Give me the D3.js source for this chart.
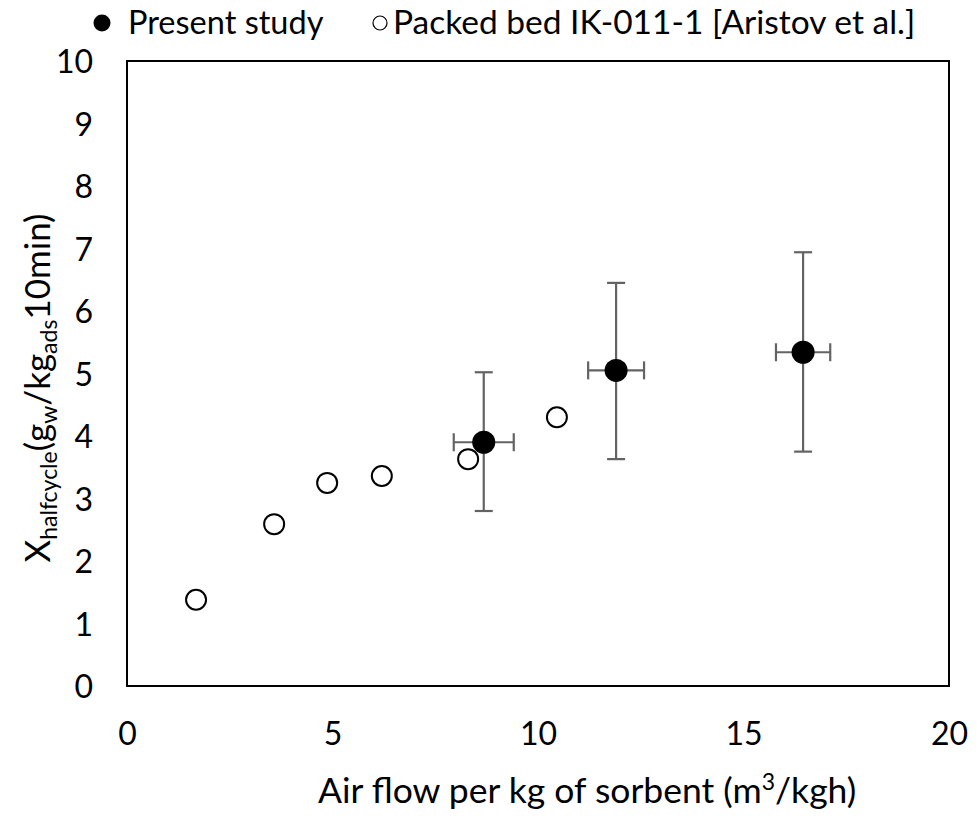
<!DOCTYPE html>
<html>
<head>
<meta charset="utf-8">
<script src="https://cdn.jsdelivr.net/npm/d3@7"></script>
<style>
  body { margin: 0; background: #fff; }
  svg text { font-family: Lato, "Open Sans", sans-serif; fill: #000; }
</style>
</head>
<body>
<svg id="chart" width="980" height="818"></svg>
<script>
// data
const presentX = [8.68, 11.9, 16.45];
const presentY = [3.9, 5.05, 5.34];
const presentXErr = [0.73, 0.68, 0.66];
const presentYLow = [2.8, 3.63, 3.75];
const presentYHigh = [5.02, 6.45, 6.94];

const packedX = [1.68, 3.58, 4.87, 6.2, 8.3, 10.46];
const packedY = [1.38, 2.59, 3.25, 3.36, 3.63, 4.3];

const xTicks = [0, 5, 10, 15, 20];
const yTicks = [0, 1, 2, 3, 4, 5, 6, 7, 8, 9, 10];

const margin = { top: 61, right: 31, bottom: 132, left: 127 };
const W = 980, H = 818;
const innerW = W - margin.left - margin.right;
const innerH = H - margin.top - margin.bottom;

const svg = d3.select("#chart");
const g = svg.append("g")
    .attr("transform", `translate(${margin.left},${margin.top})`);

const x = d3.scaleLinear().domain([0, 20]).range([0, innerW]);
const y = d3.scaleLinear().domain([0, 10]).range([innerH, 0]);

// frame
g.append("rect")
    .attr("width", innerW)
    .attr("height", innerH)
    .attr("fill", "none")
    .attr("stroke", "#000")
    .attr("stroke-width", 2);

// axes (labels only, frame drawn above)
const xAxis = g.append("g")
    .attr("transform", `translate(0,${innerH})`)
    .call(d3.axisBottom(x).tickValues(xTicks).tickSize(0).tickPadding(0));
const yAxis = g.append("g")
    .call(d3.axisLeft(y).tickValues(yTicks).tickSize(0).tickPadding(34));

[xAxis, yAxis].forEach(a => {
    a.select(".domain").remove();
    a.selectAll(".tick text")
        .style("font-size", "32px")
        .style("font-family", "Lato, 'Open Sans', sans-serif");
});
xAxis.selectAll(".tick text").attr("y", 59).attr("dy", 0);
yAxis.selectAll(".tick text").attr("dy", "0.36em");

// error bars
const presentData = presentX.map((v, i) => ({
    x: v, y: presentY[i], xe: presentXErr[i], lo: presentYLow[i], hi: presentYHigh[i]
}));

const errColor = "#636363";
const cap = 9;
const eb = g.append("g")
    .attr("stroke", errColor)
    .attr("stroke-width", 2.2);

presentData.forEach(d => {
    // vertical
    eb.append("line")
        .attr("x1", x(d.x)).attr("x2", x(d.x))
        .attr("y1", y(d.lo)).attr("y2", y(d.hi));
    eb.append("line")
        .attr("x1", x(d.x) - cap).attr("x2", x(d.x) + cap)
        .attr("y1", y(d.lo)).attr("y2", y(d.lo));
    eb.append("line")
        .attr("x1", x(d.x) - cap).attr("x2", x(d.x) + cap)
        .attr("y1", y(d.hi)).attr("y2", y(d.hi));
    // horizontal
    eb.append("line")
        .attr("x1", x(d.x - d.xe)).attr("x2", x(d.x + d.xe))
        .attr("y1", y(d.y)).attr("y2", y(d.y));
    eb.append("line")
        .attr("x1", x(d.x - d.xe)).attr("x2", x(d.x - d.xe))
        .attr("y1", y(d.y) - cap).attr("y2", y(d.y) + cap);
    eb.append("line")
        .attr("x1", x(d.x + d.xe)).attr("x2", x(d.x + d.xe))
        .attr("y1", y(d.y) - cap).attr("y2", y(d.y) + cap);
});

// packed bed (open circles)
g.selectAll(".packed")
    .data(packedX.map((v, i) => ({ x: v, y: packedY[i] })))
    .enter()
    .append("circle")
    .attr("class", "packed")
    .attr("cx", d => x(d.x))
    .attr("cy", d => y(d.y))
    .attr("r", 10)
    .attr("fill", "#fff")
    .attr("stroke", "#000")
    .attr("stroke-width", 2);

// present study (filled)
g.selectAll(".present")
    .data(presentData)
    .enter()
    .append("circle")
    .attr("class", "present")
    .attr("cx", d => x(d.x))
    .attr("cy", d => y(d.y))
    .attr("r", 11.5)
    .attr("fill", "#000");

// legend
const leg = svg.append("g");
leg.append("circle")
    .attr("cx", 102).attr("cy", 23).attr("r", 8.5)
    .attr("fill", "#000");
leg.append("text")
    .attr("x", 128).attr("y", 34)
    .style("font-size", "32.5px")
    .text("Present study");
leg.append("circle")
    .attr("cx", 380).attr("cy", 23).attr("r", 7)
    .attr("fill", "#fff")
    .attr("stroke", "#000")
    .attr("stroke-width", 1.2);
leg.append("text")
    .attr("x", 393).attr("y", 34)
    .style("font-size", "33.5px")
    .text("Packed bed IK-011-1 [Aristov et al.]");

// x title
const xt = svg.append("text")
    .attr("x", 318)
    .attr("y", 803)
    .style("font-size", "35.5px");
xt.append("tspan").text("Air flow per kg of sorbent (m");
xt.append("tspan").attr("dy", -13).style("font-size", "23px").text("3");
xt.append("tspan").attr("dy", 13).text("/kgh)");

// y title
const yt = svg.append("text")
    .attr("transform", `translate(50,388) rotate(-90)`)
    .attr("text-anchor", "middle")
    .style("font-size", "35px");
yt.append("tspan").text("X");
yt.append("tspan").attr("dy", 7).style("font-size", "23px").text("halfcycle");
yt.append("tspan").attr("dy", -7).text("(g");
yt.append("tspan").attr("dy", 7).style("font-size", "23px").text("w");
yt.append("tspan").attr("dy", -7).text("/kg");
yt.append("tspan").attr("dy", 7).style("font-size", "23px").text("ads");
yt.append("tspan").attr("dy", -7).text("10min)");
</script>
</body>
</html>
